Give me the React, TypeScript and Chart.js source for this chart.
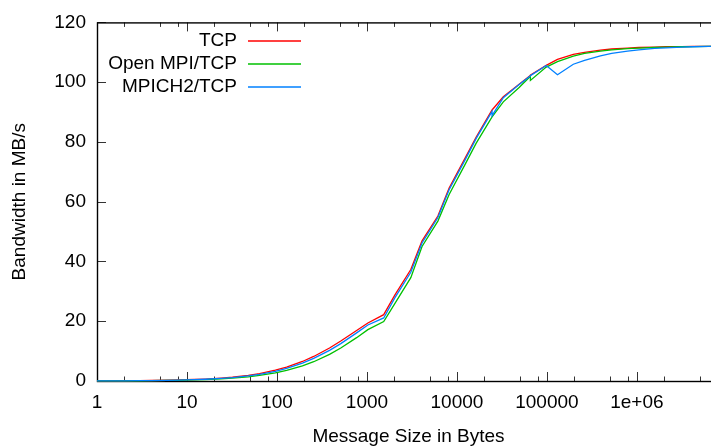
import React, { useEffect, useRef } from "react";
import { Chart, registerables } from "chart.js";

Chart.register(...registerables);

// Message sizes in bytes
const sizes = [
  1, 2, 3, 4, 6, 8, 12, 16, 24, 32,
  48, 64, 96, 128, 192, 256, 384, 512, 768, 1024,
  1536, 2048, 3072, 4096, 6144, 8192, 12288, 16384, 24576, 24579,
  32768, 49152, 65536, 65539, 98304, 131072, 196608, 262144, 393216, 524288,
  786432, 1048576, 1572864, 2097152, 3145728, 4194304, 6291456, 8388608,
];

// Bandwidth in MB/s
const tcp = [
  0.04, 0.08, 0.12, 0.17, 0.25, 0.33, 0.5, 0.66, 0.99, 1.29,
  1.89, 2.48, 3.6, 4.64, 6.53, 8.21, 11.05, 13.4, 16.9, 19.4,
  22.2, 28.8, 37.3, 46.9, 55.2, 64.6, 74.5, 81.6, 90.7, 90.7,
  95.1, 99.3, 102.3, 102.35, 105.6, 107.6, 109.3, 110.0, 110.7, 111.1,
  111.4, 111.6, 111.75, 111.85, 111.9, 111.95, 111.98, 112.0,
];

const openMpi = [
  0.03, 0.06, 0.09, 0.12, 0.18, 0.24, 0.36, 0.48, 0.72, 0.95,
  1.4, 1.85, 2.7, 3.52, 5.05, 6.45, 8.93, 11.06, 14.5, 17.2,
  19.9, 26.0, 34.6, 45.0, 53.5, 62.4, 72.4, 79.6, 88.4, 88.4,
  93.4, 98.2, 102.0, 100.6, 105.05, 106.9, 108.7, 109.6, 110.4, 110.8,
  111.2, 111.4, 111.6, 111.75, 111.85, 111.92, 111.97, 112.0,
];

const mpich2 = [
  0.037, 0.074, 0.11, 0.15, 0.22, 0.3, 0.44, 0.59, 0.88, 1.15,
  1.7, 2.23, 3.24, 4.2, 5.96, 7.55, 10.27, 12.5, 16.1, 18.75,
  21.1, 27.9, 36.4, 46.2, 54.7, 64.0, 73.9, 81.2, 90.2, 88.8,
  94.8, 99.2, 102.1, 102.2, 105.6, 102.5, 106.0, 107.3, 108.8, 109.6,
  110.4, 110.8, 111.3, 111.5, 111.75, 111.85, 111.95, 112.0,
];

const seriesNames = ["TCP", "Open MPI/TCP", "MPICH2/TCP"];
const seriesColors = ["#ff0000", "#00c000", "#0080ff"];

const xTickValues = [1, 10, 100, 1000, 10000, 100000, 1000000];
const xTickLabels = ["1", "10", "100", "1000", "10000", "100000", "1e+06"];
const xMinorFactors = [2, 5, 8];
const yTickValues = [0, 20, 40, 60, 80, 100, 120];

const FONT = "'Liberation Sans', Arial, sans-serif";
const FONT_SIZE = 19;

const gnuplotFrame = {
  id: "gnuplotFrame",
  beforeDatasetsDraw(chart: any) {
    const { ctx, chartArea: a, scales } = chart;
    const xs = scales.x;
    const ys = scales.y;
    ctx.save();
    // ticks
    ctx.strokeStyle = "#333";
    ctx.lineWidth = 1;
    ctx.beginPath();
    const major = 9;
    const minor = 4.5;
    for (const v of xTickValues) {
      const px = Math.round(xs.getPixelForValue(v)) + 0.5;
      ctx.moveTo(px, a.bottom);
      ctx.lineTo(px, a.bottom - major);
      ctx.moveTo(px, a.top);
      ctx.lineTo(px, a.top + major);
    }
    for (const d of xTickValues) {
      for (const f of xMinorFactors) {
        const v = d * f;
        if (v > xs.max) continue;
        const px = Math.round(xs.getPixelForValue(v)) + 0.5;
        ctx.moveTo(px, a.bottom);
        ctx.lineTo(px, a.bottom - minor);
        ctx.moveTo(px, a.top);
        ctx.lineTo(px, a.top + minor);
      }
    }
    for (const v of yTickValues) {
      const py = Math.round(ys.getPixelForValue(v)) + 0.5;
      ctx.moveTo(a.left, py);
      ctx.lineTo(a.left + major, py);
      ctx.moveTo(a.right, py);
      ctx.lineTo(a.right - major, py);
    }
    ctx.stroke();
    // border
    ctx.strokeStyle = "#000";
    ctx.lineWidth = 1.4;
    ctx.strokeRect(a.left + 0.5, a.top + 0.5, a.right - a.left, a.bottom - a.top);
    ctx.restore();
  },
  afterDatasetsDraw(chart: any) {
    const { ctx } = chart;
    ctx.save();
    ctx.font = `${FONT_SIZE}px ${FONT}`;
    ctx.fillStyle = "#000";
    ctx.textAlign = "right";
    ctx.textBaseline = "alphabetic";
    seriesNames.forEach((name, i) => {
      const base = 45.6 + i * 23;
      ctx.fillText(name, 237, base);
      ctx.strokeStyle = seriesColors[i];
      ctx.lineWidth = 1.3;
      ctx.beginPath();
      ctx.moveTo(248, 41 + i * 23);
      ctx.lineTo(301, 41 + i * 23);
      ctx.stroke();
    });
    ctx.restore();
  },
};

export default function App() {
  const canvasRef = useRef<HTMLCanvasElement | null>(null);

  useEffect(() => {
    const canvas = canvasRef.current;
    if (!canvas) return;
    const seriesValues = [tcp, openMpi, mpich2];
    const chart = new Chart(canvas, {
      type: "line",
      data: {
        datasets: seriesValues.map((vals, i) => ({
          label: seriesNames[i],
          data: sizes.map((s, j) => ({ x: s, y: vals[j] })),
          borderColor: seriesColors[i],
          backgroundColor: seriesColors[i],
          borderWidth: 1.3,
          pointRadius: 0,
          tension: 0,
          fill: false,
          clip: false as any,
          order: 3 - i,
        })),
      },
      options: {
        animation: false,
        responsive: false,
        devicePixelRatio: 1,
        events: [],
        layout: { padding: { top: 20, right: 10, left: 0, bottom: 0 } },
        plugins: {
          legend: { display: false },
          tooltip: { enabled: false },
        },
        scales: {
          x: {
            type: "logarithmic",
            min: 1,
            max: 8388608,
            afterFit: (s: any) => {
              s.height = 65;
            },
            afterBuildTicks: (s: any) => {
              s.ticks = xTickValues.map((v) => ({ value: v }));
            },
            grid: { display: false, drawTicks: false },
            border: { display: false },
            ticks: {
              autoSkip: false,
              maxRotation: 0,
              minRotation: 0,
              padding: 10,
              color: "#000",
              font: { family: FONT, size: FONT_SIZE },
              callback: (_v: any, idx: number) => xTickLabels[idx],
            },
            title: {
              display: true,
              text: "Message Size in Bytes",
              color: "#000",
              font: { family: FONT, size: FONT_SIZE, lineHeight: 1 },
              padding: { top: 0, bottom: 0 },
            },
          },
          y: {
            type: "linear",
            min: 0,
            max: 120,
            afterFit: (s: any) => {
              s.width = 97;
            },
            afterBuildTicks: (s: any) => {
              s.ticks = yTickValues.map((v) => ({ value: v }));
            },
            grid: { display: false, drawTicks: false },
            border: { display: false },
            ticks: {
              padding: 11,
              color: "#000",
              font: { family: FONT, size: FONT_SIZE },
              callback: (v: any) => String(v),
            },
            title: {
              display: true,
              text: "Bandwidth in MB/s",
              color: "#000",
              font: { family: FONT, size: FONT_SIZE, lineHeight: 1 },
              padding: { top: 10.5, bottom: 0 },
            },
          },
        },
      },
      plugins: [gnuplotFrame],
    });
    return () => chart.destroy();
  }, []);

  return (
    <div
      style={{
        position: "absolute",
        left: 0,
        top: 0,
        width: 711,
        height: 446,
        overflow: "hidden",
        background: "#fff",
      }}
    >
      <canvas ref={canvasRef} width={730} height={446} style={{ display: "block" }} />
    </div>
  );
}
